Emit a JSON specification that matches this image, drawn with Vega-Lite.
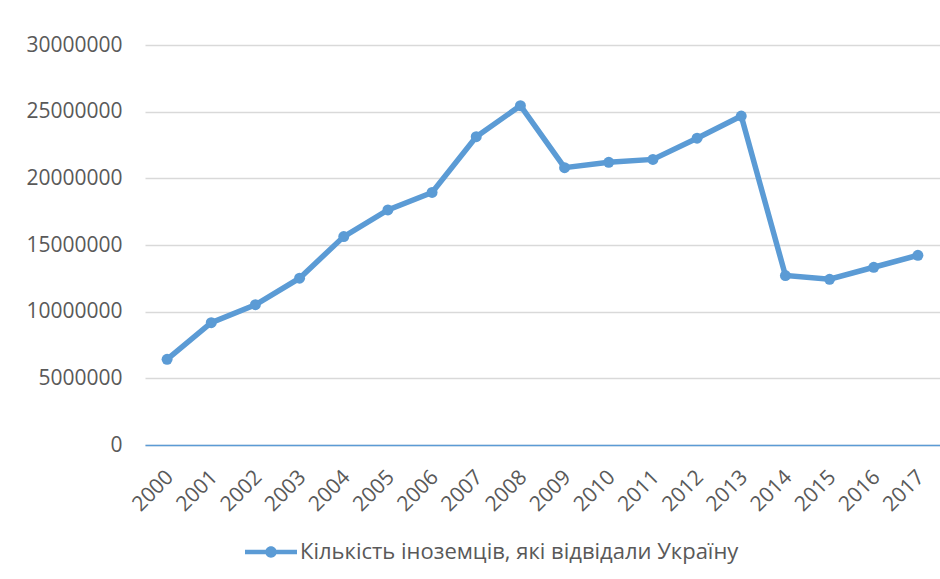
{
  "$schema": "https://vega.github.io/schema/vega-lite/v6.json",
  "autosize": {"type": "none"},
  "width": 795,
  "height": 400,
  "padding": {"left": 145, "top": 45, "right": 0, "bottom": 134},
  "background": "white",
  "config": {
    "view": {"stroke": null},
    "font": "Open Sans",
    "axis": {"labelFont": "Open Sans", "labelFontSize": 21, "labelColor": "#595959"}
  },
  "data": {
    "values": [
      {"year": "2000", "value": 6430000, "series": "Кількість іноземців, які відвідали Україну"},
      {"year": "2001", "value": 9170000, "series": "Кількість іноземців, які відвідали Україну"},
      {"year": "2002", "value": 10520000, "series": "Кількість іноземців, які відвідали Україну"},
      {"year": "2003", "value": 12510000, "series": "Кількість іноземців, які відвідали Україну"},
      {"year": "2004", "value": 15630000, "series": "Кількість іноземців, які відвідали Україну"},
      {"year": "2005", "value": 17630000, "series": "Кількість іноземців, які відвідали Україну"},
      {"year": "2006", "value": 18940000, "series": "Кількість іноземців, які відвідали Україну"},
      {"year": "2007", "value": 23120000, "series": "Кількість іноземців, які відвідали Україну"},
      {"year": "2008", "value": 25450000, "series": "Кількість іноземців, які відвідали Україну"},
      {"year": "2009", "value": 20800000, "series": "Кількість іноземців, які відвідали Україну"},
      {"year": "2010", "value": 21200000, "series": "Кількість іноземців, які відвідали Україну"},
      {"year": "2011", "value": 21420000, "series": "Кількість іноземців, які відвідали Україну"},
      {"year": "2012", "value": 23010000, "series": "Кількість іноземців, які відвідали Україну"},
      {"year": "2013", "value": 24670000, "series": "Кількість іноземців, які відвідали Україну"},
      {"year": "2014", "value": 12710000, "series": "Кількість іноземців, які відвідали Україну"},
      {"year": "2015", "value": 12430000, "series": "Кількість іноземців, які відвідали Україну"},
      {"year": "2016", "value": 13330000, "series": "Кількість іноземців, які відвідали Україну"},
      {"year": "2017", "value": 14230000, "series": "Кількість іноземців, які відвідали Україну"}
    ]
  },
  "encoding": {
    "x": {
      "field": "year", "type": "ordinal",
      "scale": {"type": "point", "padding": 0.5},
      "axis": {
        "title": null, "labelAngle": -45, "ticks": false,
        "domainColor": "#5b9bd5", "domainWidth": 1.5, "labelPadding": 21, "labelOffset": -5
      }
    },
    "y": {
      "field": "value", "type": "quantitative",
      "scale": {"domain": [0, 30000000], "nice": false},
      "axis": {
        "title": null, "values": [0, 5000000, 10000000, 15000000, 20000000, 25000000, 30000000],
        "format": "d", "ticks": false, "domain": false, "labelPadding": 23,
        "gridColor": "#d9d9d9", "gridWidth": 1.5
      }
    }
  },
  "layer": [
    {
      "mark": {"type": "line", "color": "#5b9bd5", "strokeWidth": 5.5}
    },
    {
      "mark": {"type": "point", "filled": true, "opacity": 1, "size": 120},
      "encoding": {
        "color": {
          "field": "series", "type": "nominal",
          "scale": {"range": ["#5b9bd5"]},
          "legend": {
            "title": null, "orient": "none", "legendX": 100, "legendY": 481,
            "symbolType": "M-1,-0.09H1V0.09H-1Z M0.22,0 A0.22,0.22 0 1 1 -0.22,0 A0.22,0.22 0 1 1 0.22,0Z",
            "symbolSize": 2704, "symbolStrokeWidth": 0, "symbolOpacity": 1,
            "labelFont": "Open Sans", "labelFontSize": 22, "labelColor": "#595959", "labelOffset": 3,
            "labelLimit": 700
          }
        }
      }
    }
  ]
}
